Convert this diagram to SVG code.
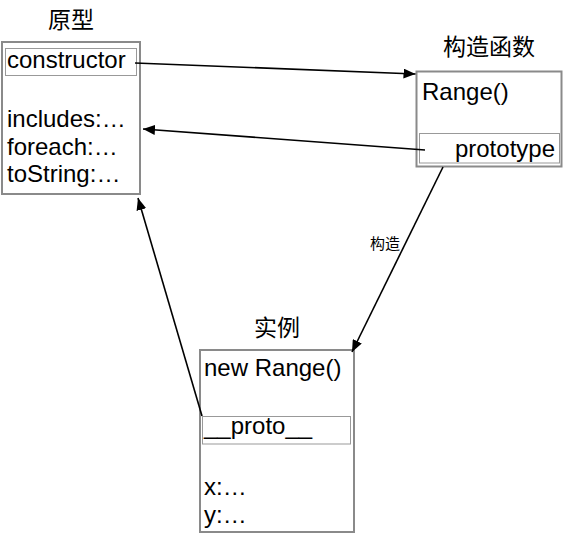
<svg xmlns="http://www.w3.org/2000/svg" width="564" height="534" viewBox="0 0 564 534">
<style>
.box{fill:#fff;stroke:#8a8a8a;stroke-width:2}
.inner{fill:none;stroke:#999;stroke-width:1}
.t{font-family:"Liberation Sans",Arial,sans-serif;font-size:24px;fill:#000}
.title{font-family:"Noto Sans CJK SC","Liberation Sans",sans-serif;font-size:23px;fill:#000;text-anchor:middle}
.lbl{font-family:"Noto Sans CJK SC","Liberation Sans",sans-serif;font-size:15px;fill:#000}
.conn{stroke:#000;stroke-width:1.6;fill:none;marker-end:url(#ah)}
</style>
<defs>
<marker id="ah" markerUnits="userSpaceOnUse" markerWidth="13" markerHeight="10" refX="12" refY="5" orient="auto">
<path d="M0,0 L12,5 L0,10 z" fill="#000"/>
</marker>
</defs>
<rect width="564" height="534" fill="#fff"/>
<g id="prototype">
<text class="title" x="71" y="28">原型</text>
<rect class="box" x="2" y="42" width="138" height="152"/>
<rect class="inner" x="5.5" y="48.5" width="131" height="27"/>
<text class="t" x="7" y="68">constructor</text>
<text class="t" x="7" y="127">includes:…</text>
<text class="t" x="7" y="154.5">foreach:…</text>
<text class="t" x="7" y="182">toString:…</text>
</g>
<g id="constructorFn">
<text class="title" x="489" y="55">构造函数</text>
<rect class="box" x="416.5" y="71.5" width="145" height="95"/>
<rect class="inner" x="419.5" y="133.5" width="140" height="29.5"/>
<text class="t" x="422" y="100">Range()</text>
<text class="t" x="555" y="157" text-anchor="end">prototype</text>
</g>
<g id="instance">
<text class="title" x="277" y="336">实例</text>
<rect class="box" x="200" y="350" width="154" height="182"/>
<rect class="inner" x="202.5" y="416.5" width="148" height="27.5"/>
<text class="t" x="204" y="376">new Range()</text>
<text class="t" x="204" y="434">__proto__</text>
<text class="t" x="204" y="495">x:…</text>
<text class="t" x="204" y="523">y:…</text>
</g>
<g id="connectors">
<line class="conn" x1="135" y1="63" x2="415.5" y2="74"/>
<line class="conn" x1="425" y1="150" x2="143" y2="129"/>
<line class="conn" x1="443" y1="167" x2="352" y2="352"/>
<line class="conn" x1="202" y1="416" x2="138" y2="198"/>
<text class="lbl" x="370" y="249">构造</text>
</g>
</svg>
